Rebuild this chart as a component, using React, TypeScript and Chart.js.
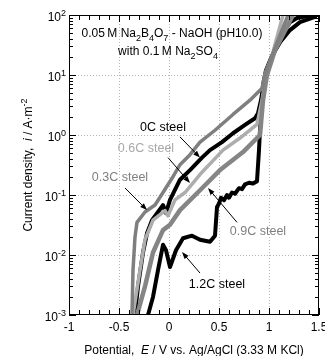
import React, { useEffect, useRef } from 'react';
import { Chart, registerables } from 'chart.js';

Chart.register(...registerables);

const FONT = '"Liberation Sans", Arial, Helvetica, sans-serif';

// ---- data (E in V, i in A/m^2) ----
const e03 = [-0.37, -0.36, -0.34, -0.32, -0.24, -0.14, -0.06, 0.03, 0.11, 0.21, 0.31, 0.46, 0.64, 0.81, 0.93, 0.96, 1.03, 1.11, 1.19, 1.25];
const i03 = [0.001, 0.0056, 0.02, 0.035, 0.052, 0.068, 0.11, 0.19, 0.32, 0.47, 0.76, 1.2, 2.2, 3.8, 6.0, 10.7, 21, 46, 100, 150];

const e06 = [-0.36, -0.29, -0.24, -0.16, -0.09, -0.04, -0.01, 0.06, 0.16, 0.33, 0.54, 0.71, 0.88, 0.93, 0.97, 1.03, 1.14, 1.2];
const i06 = [0.001, 0.0056, 0.018, 0.038, 0.047, 0.055, 0.045, 0.083, 0.11, 0.24, 0.56, 0.89, 1.5, 3.8, 10, 21, 100, 150];

const e09 = [-0.32, -0.24, -0.16, -0.06, 0.01, 0.11, 0.31, 0.51, 0.74, 0.91, 0.94, 0.98, 1.06, 1.24, 1.3];
const i09 = [0.001, 0.003, 0.011, 0.026, 0.032, 0.056, 0.12, 0.26, 0.52, 1.0, 3.8, 10, 26, 100, 150];

const e00 = [-0.34, -0.31, -0.26, -0.22, -0.17, -0.11, -0.06, -0.03, 0.01, 0.11, 0.21, 0.33, 0.41, 0.53, 0.64, 0.76, 0.86, 0.89, 0.92, 0.95, 0.99, 1.06, 1.14, 1.21, 1.28, 1.41, 1.5];
const i00 = [0.001, 0.003, 0.011, 0.023, 0.038, 0.052, 0.068, 0.05, 0.083, 0.18, 0.26, 0.42, 0.56, 0.76, 1.07, 1.47, 1.9, 2.3, 3.8, 7.6, 13, 26, 50, 76, 89, 98, 100];

const e12 = [-0.21, -0.16, -0.11, -0.06, -0.03, 0.01, 0.07, 0.14, 0.23, 0.31, 0.41, 0.46, 0.48, 0.5, 0.52, 0.55, 0.58, 0.6, 0.63, 0.66, 0.7, 0.73, 0.76, 0.8, 0.84, 0.88, 0.9, 0.92, 0.94, 0.97, 1.03, 1.11, 1.21, 1.31, 1.46];
const i12 = [0.001, 0.002, 0.0056, 0.0148, 0.012, 0.0063, 0.012, 0.019, 0.021, 0.018, 0.0166, 0.021, 0.063, 0.072, 0.09, 0.082, 0.1, 0.09, 0.11, 0.105, 0.13, 0.125, 0.15, 0.16, 0.155, 0.17, 0.56, 2.6, 6.8, 12, 21, 35, 56, 76, 93];

const xTickLabels = ['-1', '-0.5', '0', '0.5', '1', '1.5'];
const xTickValues = [-1, -0.5, 0, 0.5, 1, 1.5];
const yExponents = [-3, -2, -1, 0, 1, 2];

// annotations
const labelTexts = ['0C steel', '0.6C steel', '0.3C steel', '0.9C steel', '1.2C steel'];
const labelColors = ['#000000', '#a8a8a8', '#7f7f7f', '#7f7f7f', '#000000'];
const labelPosE = [-0.06, -0.23, -0.49, 0.89, 0.48];
const labelPosI = [1.36, 0.61, 0.2, 0.026, 0.0034];
const arrowFromE = [0.11, -0.01, -0.44, 0.68, 0.31];
const arrowFromI = [0.93, 0.42, 0.131, 0.035, 0.005];
const arrowToE = [0.31, 0.21, -0.22, 0.39, 0.13];
const arrowToI = [0.42, 0.158, 0.056, 0.131, 0.0112];

type Part = { t: string; s?: 'sub' | 'sup'; it?: boolean };

function drawRich(ctx: CanvasRenderingContext2D, parts: Part[], x: number, y: number, size: number, color: string, align: 'left' | 'center' | 'right') {
  const fontFor = (p: Part) => `${p.it ? 'italic ' : ''}${p.s ? Math.round(size * 0.72) : size}px ${FONT}`;
  let w = 0;
  for (const p of parts) {
    ctx.font = fontFor(p);
    w += ctx.measureText(p.t).width;
  }
  let cx = align === 'center' ? x - w / 2 : align === 'right' ? x - w : x;
  ctx.textAlign = 'left';
  ctx.textBaseline = 'alphabetic';
  ctx.fillStyle = color;
  for (const p of parts) {
    ctx.font = fontFor(p);
    const dy = p.s === 'sub' ? size * 0.28 : p.s === 'sup' ? -size * 0.45 : 0;
    ctx.fillText(p.t, cx, y + dy);
    cx += ctx.measureText(p.t).width;
  }
}

function toPts(es: number[], is: number[]) {
  return es.map((e, k) => ({ x: e, y: is[k] }));
}

const framePlugin = {
  id: 'framePlugin',
  beforeDatasetsDraw(chart: any) {
    const { ctx, chartArea: a, scales } = chart;
    const xs = scales.x, ys = scales.y;
    ctx.save();
    ctx.strokeStyle = '#b4b4b4';
    ctx.lineWidth = 1;
    ctx.setLineDash([1, 2]);
    for (const v of [-0.5, 0, 0.5, 1]) {
      const px = Math.round(xs.getPixelForValue(v)) + 0.5;
      ctx.beginPath(); ctx.moveTo(px, a.top); ctx.lineTo(px, a.bottom); ctx.stroke();
    }
    for (const ex of [-2, -1, 0, 1]) {
      const py = Math.round(ys.getPixelForValue(Math.pow(10, ex))) + 0.5;
      ctx.beginPath(); ctx.moveTo(a.left, py); ctx.lineTo(a.right, py); ctx.stroke();
    }
    ctx.restore();
  },
  afterDraw(chart: any) {
    const { ctx, chartArea: a, scales } = chart;
    const xs = scales.x, ys = scales.y;
    ctx.save();
    ctx.setLineDash([]);
    ctx.strokeStyle = '#000';
    ctx.lineWidth = 1;
    ctx.strokeRect(a.left + 0.5, a.top + 0.5, a.right - a.left - 1, a.bottom - a.top - 1);
    ctx.beginPath();
    for (let k = 0; k <= 25; k++) {
      const v = -1 + k * 0.1;
      const px = Math.round(xs.getPixelForValue(v)) + 0.5;
      const len = k % 5 === 0 ? 7 : 5;
      ctx.moveTo(px, a.bottom); ctx.lineTo(px, a.bottom - len);
      ctx.moveTo(px, a.top); ctx.lineTo(px, a.top + len);
    }
    for (let ex = -3; ex <= 2; ex++) {
      for (let m = 1; m <= 9; m++) {
        if (ex === 2 && m > 1) break;
        const py = Math.round(ys.getPixelForValue(m * Math.pow(10, ex))) + 0.5;
        const len = m === 1 ? 7 : 4;
        ctx.moveTo(a.left, py); ctx.lineTo(a.left + len, py);
        ctx.moveTo(a.right, py); ctx.lineTo(a.right - len, py);
      }
    }
    ctx.stroke();

    ctx.fillStyle = '#000';
    ctx.font = `12px ${FONT}`;
    ctx.textAlign = 'center';
    ctx.textBaseline = 'alphabetic';
    xTickValues.forEach((v, k) => {
      ctx.fillText(xTickLabels[k], xs.getPixelForValue(v), a.bottom + 16);
    });
    yExponents.forEach((ex) => {
      const py = ys.getPixelForValue(Math.pow(10, ex));
      drawRich(ctx, [{ t: '10' }, { t: String(ex), s: 'sup' }], a.left - 3, py + 6, 12, '#000', 'right');
    });

    drawRich(ctx, [{ t: 'Potential,  ' }, { t: 'E', it: true }, { t: ' / V vs. Ag/AgCl (3.33 M KCl)' }],
      (a.left + a.right) / 2, a.bottom + 39, 12, '#000', 'center');
    ctx.save();
    ctx.translate(32, (a.top + a.bottom) / 2);
    ctx.rotate(-Math.PI / 2);
    drawRich(ctx, [{ t: 'Current density,  ' }, { t: 'i', it: true }, { t: ' / A\u00b7m' }, { t: '-2', s: 'sup' }], 0, 0, 12, '#000', 'center');
    ctx.restore();

    const tx = xs.getPixelForValue(0.03);
    drawRich(ctx, [{ t: '0.05\u2009M Na' }, { t: '2', s: 'sub' }, { t: 'B' }, { t: '4', s: 'sub' }, { t: 'O' }, { t: '7', s: 'sub' }, { t: ' - NaOH (pH10.0)' }],
      tx, ys.getPixelForValue(Math.pow(10, 1.63)), 12, '#000', 'center');
    drawRich(ctx, [{ t: 'with 0.1\u2009M Na' }, { t: '2', s: 'sub' }, { t: 'SO' }, { t: '4', s: 'sub' }],
      tx - 4, ys.getPixelForValue(Math.pow(10, 1.33)), 12, '#000', 'center');

    labelTexts.forEach((txt, k) => {
      const lx = xs.getPixelForValue(labelPosE[k]);
      const ly = ys.getPixelForValue(labelPosI[k]);
      drawRich(ctx, [{ t: txt }], lx, ly + 4.5, 12.5, labelColors[k], 'center');
      const x1 = xs.getPixelForValue(arrowFromE[k]);
      const y1 = ys.getPixelForValue(arrowFromI[k]);
      const x2 = xs.getPixelForValue(arrowToE[k]);
      const y2 = ys.getPixelForValue(arrowToI[k]);
      const ang = Math.atan2(y2 - y1, x2 - x1);
      const hl = 7, hw = 2.6;
      ctx.strokeStyle = '#000';
      ctx.fillStyle = '#000';
      ctx.lineWidth = 1;
      ctx.beginPath();
      ctx.moveTo(x1, y1);
      ctx.lineTo(x2 - Math.cos(ang) * hl * 0.8, y2 - Math.sin(ang) * hl * 0.8);
      ctx.stroke();
      ctx.beginPath();
      ctx.moveTo(x2, y2);
      ctx.lineTo(x2 - Math.cos(ang) * hl - Math.sin(ang) * hw, y2 - Math.sin(ang) * hl + Math.cos(ang) * hw);
      ctx.lineTo(x2 - Math.cos(ang) * hl + Math.sin(ang) * hw, y2 - Math.sin(ang) * hl - Math.cos(ang) * hw);
      ctx.closePath();
      ctx.fill();
    });
    ctx.restore();
  },
};

export default function App() {
  const ref = useRef<HTMLCanvasElement | null>(null);
  useEffect(() => {
    if (!ref.current) return;
    const mk = (label: string, es: number[], is: number[], color: string, w: number) => ({
      label,
      data: toPts(es, is),
      borderColor: color,
      backgroundColor: color,
      borderWidth: w,
      pointRadius: 0,
      tension: 0,
      fill: false,
      borderJoinStyle: 'round' as const,
      borderCapStyle: 'round' as const,
    });
    const chart = new Chart(ref.current, {
      type: 'line',
      data: {
        datasets: [
          mk('0.3C steel', e03, i03, '#7f7f7f', 3.5),
          mk('0.9C steel', e09, i09, '#858585', 4.5),
          mk('0.6C steel', e06, i06, '#adadad', 3.5),
          mk('0C steel', e00, i00, '#000000', 4),
          mk('1.2C steel', e12, i12, '#000000', 4),
        ],
      },
      options: {
        animation: false,
        responsive: false,
        devicePixelRatio: 1,
        layout: { padding: { left: 69, right: 6, top: 15, bottom: 41 } },
        plugins: { legend: { display: false }, tooltip: { enabled: false } },
        scales: {
          x: { type: 'linear', min: -1, max: 1.5, display: false },
          y: { type: 'logarithmic', min: 0.001, max: 100, display: false },
        },
      },
      plugins: [framePlugin],
    });
    return () => chart.destroy();
  }, []);
  return (
    <div style={{ position: 'absolute', left: 0, top: 0, width: 325, height: 356, background: '#fff' }}>
      <canvas ref={ref} width={325} height={356} style={{ width: 325, height: 356, display: 'block' }} />
    </div>
  );
}
